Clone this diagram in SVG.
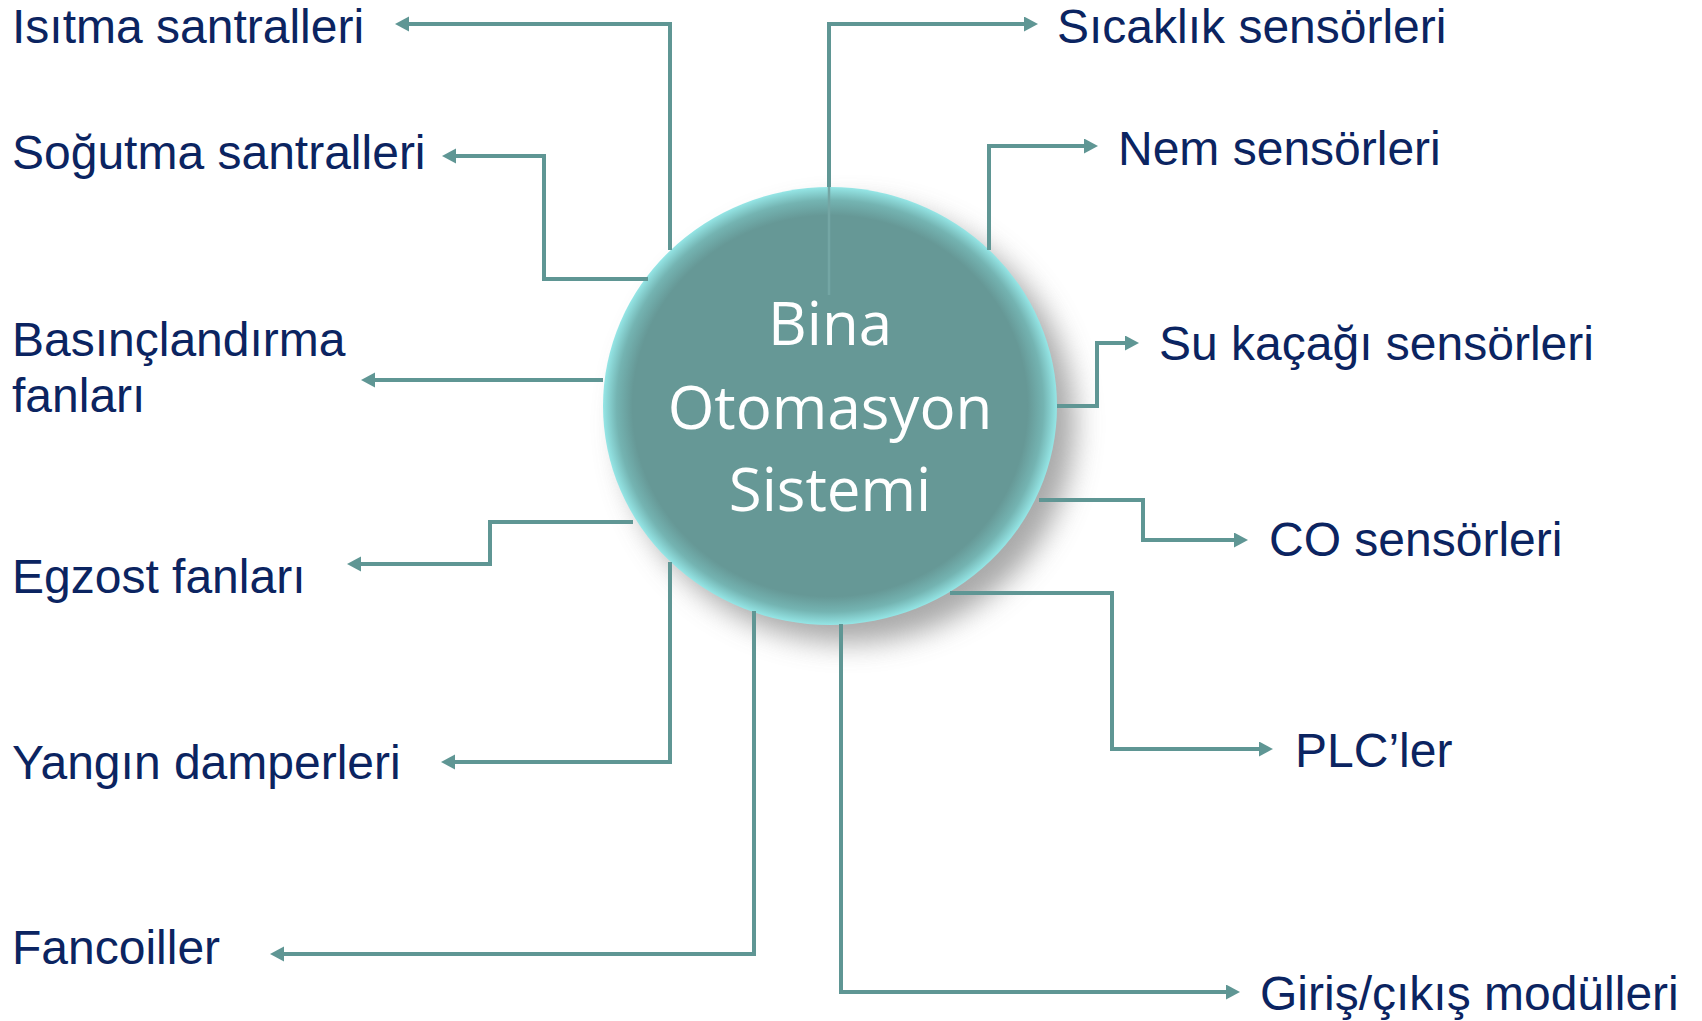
<svg xmlns="http://www.w3.org/2000/svg" width="1702" height="1021" viewBox="0 0 1702 1021">
  <style>
    .lbl { font-family: "Liberation Sans", Arial, sans-serif; font-size: 48px; fill: #0b2461; }
    .ctr { font-family: "Open Sans", "Noto Sans", sans-serif; font-size: 60px; fill: #ffffff; text-anchor: middle; }
    .con { fill: none; stroke: #5f9694; stroke-width: 4; marker-end: url(#arr); }
  </style>
  <defs>
    <marker id="arr" markerUnits="userSpaceOnUse" markerWidth="16" markerHeight="16" refX="4" refY="7.5" orient="auto">
      <path d="M0,0 L14,7.5 L0,15 z" fill="#5f9694"/>
    </marker>
    <radialGradient id="ball" cx="0.5" cy="0.5" r="0.5">
      <stop offset="0" stop-color="#669896"/>
      <stop offset="0.87" stop-color="#669896"/>
      <stop offset="0.94" stop-color="#74b4b2"/>
      <stop offset="1" stop-color="#95e6e6"/>
    </radialGradient>
    <filter id="blur" x="-30%" y="-30%" width="160%" height="160%">
      <feGaussianBlur stdDeviation="14"/>
    </filter>
  </defs>
  <rect width="1702" height="1021" fill="#ffffff"/>

  <g id="node-center">
    <ellipse cx="848" cy="424" rx="227" ry="219" fill="#8c8c8c" opacity="0.75" filter="url(#blur)"/>
    <ellipse cx="830" cy="406" rx="227" ry="219" fill="url(#ball)"/>
    <text class="ctr" x="830" y="345">Bina</text>
    <text class="ctr" x="830" y="429">Otomasyon</text>
    <text class="ctr" x="830" y="511">Sistemi</text>
  </g>

  <g id="connectors">
    <path class="con" d="M670,250 V24 H405"/>
    <path class="con" d="M648,279 H544 V156 H452"/>
    <path class="con" d="M603,380 H371"/>
    <path class="con" d="M633,522 H490 V564 H357"/>
    <path class="con" d="M670,562 V762 H451"/>
    <path class="con" d="M754,611 V954 H280"/>
    <path class="con" d="M829,187 V24 H1028"/>
    <path d="M829,295 V187" fill="none" stroke="#74a6a4" stroke-width="2.5"/>
    <path class="con" d="M989,250 V146 H1088"/>
    <path class="con" d="M1057,406 H1097 V343 H1129"/>
    <path class="con" d="M1039,500 H1143 V540 H1238"/>
    <path class="con" d="M950,593 H1112 V749 H1263"/>
    <path class="con" d="M841,624 V992 H1230"/>
  </g>

  <g id="node-isitma"><text class="lbl" x="12" y="43">Isıtma santralleri</text></g>
  <g id="node-sogutma"><text class="lbl" x="12" y="169">Soğutma santralleri</text></g>
  <g id="node-basinc"><text class="lbl" x="12" y="356">Basınçlandırma</text><text class="lbl" x="12" y="412">fanları</text></g>
  <g id="node-egzost"><text class="lbl" x="12" y="593">Egzost fanları</text></g>
  <g id="node-yangin"><text class="lbl" x="12" y="779">Yangın damperleri</text></g>
  <g id="node-fancoil"><text class="lbl" x="12" y="964">Fancoiller</text></g>
  <g id="node-sicaklik"><text class="lbl" x="1057" y="43">Sıcaklık sensörleri</text></g>
  <g id="node-nem"><text class="lbl" x="1118" y="165">Nem sensörleri</text></g>
  <g id="node-su"><text class="lbl" x="1159" y="360">Su kaçağı sensörleri</text></g>
  <g id="node-co"><text class="lbl" x="1269" y="556">CO sensörleri</text></g>
  <g id="node-plc"><text class="lbl" x="1295" y="767">PLC’ler</text></g>
  <g id="node-io"><text class="lbl" x="1260" y="1010">Giriş/çıkış modülleri</text></g>
</svg>
